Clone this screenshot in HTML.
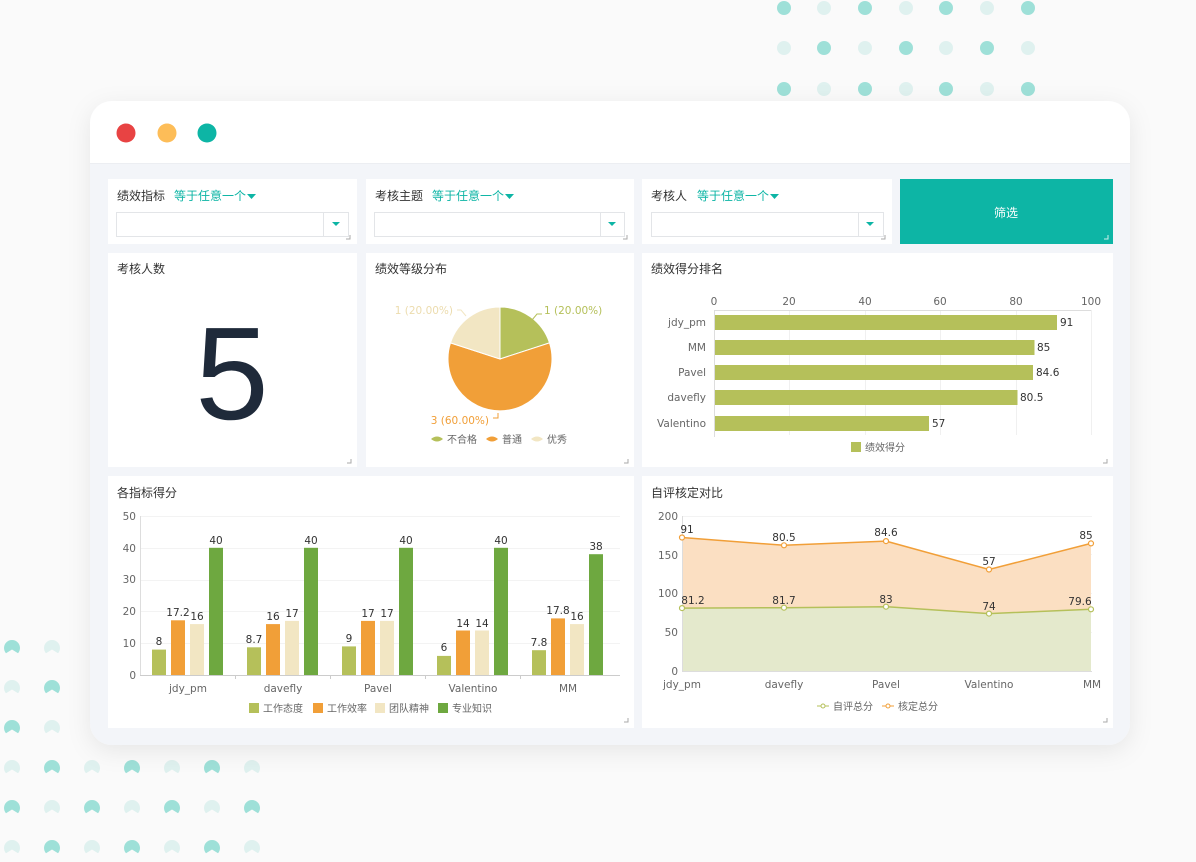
<!DOCTYPE html>
<html><head><meta charset="utf-8">
<style>
html,body{margin:0;padding:0;background:#fafafa;}
svg{display:block;font-family:"Liberation Sans","Noto Sans CJK SC",sans-serif;}
.t{font-size:12px;fill:#333;}
.ax{font-size:10.5px;fill:#666;font-family:"DejaVu Sans","Noto Sans CJK SC",sans-serif;}
.lb{font-size:10.5px;fill:#333;font-family:"DejaVu Sans","Noto Sans CJK SC",sans-serif;}
.pl{font-size:10.5px;font-family:"DejaVu Sans",sans-serif;}
</style></head><body>
<svg width="1196" height="862" viewBox="0 0 1196 862" xmlns="http://www.w3.org/2000/svg">
<defs>
<filter id="sh" x="-10%" y="-10%" width="120%" height="125%"><feDropShadow dx="0" dy="6" stdDeviation="12" flood-color="#000" flood-opacity="0.08"/></filter>
<g id="pd"><path d="M-6,5.3 A8 8 0 1 1 6,5.3 L0,1.5 Z"/></g>
</defs>
<rect width="1196" height="862" fill="#fafafa"/>
<g>
<circle cx="784" cy="8" r="7" fill="#9ee0d8"/><circle cx="824" cy="8" r="7" fill="#dff1ef"/><circle cx="865" cy="8" r="7" fill="#9ee0d8"/><circle cx="906" cy="8" r="7" fill="#dff1ef"/><circle cx="946" cy="8" r="7" fill="#9ee0d8"/><circle cx="987" cy="8" r="7" fill="#dff1ef"/><circle cx="1028" cy="8" r="7" fill="#9ee0d8"/>
<circle cx="784" cy="48" r="7" fill="#dff1ef"/><circle cx="824" cy="48" r="7" fill="#9ee0d8"/><circle cx="865" cy="48" r="7" fill="#dff1ef"/><circle cx="906" cy="48" r="7" fill="#9ee0d8"/><circle cx="946" cy="48" r="7" fill="#dff1ef"/><circle cx="987" cy="48" r="7" fill="#9ee0d8"/><circle cx="1028" cy="48" r="7" fill="#dff1ef"/>
<circle cx="784" cy="89" r="7" fill="#9ee0d8"/><circle cx="824" cy="89" r="7" fill="#dff1ef"/><circle cx="865" cy="89" r="7" fill="#9ee0d8"/><circle cx="906" cy="89" r="7" fill="#dff1ef"/><circle cx="946" cy="89" r="7" fill="#9ee0d8"/><circle cx="987" cy="89" r="7" fill="#dff1ef"/><circle cx="1028" cy="89" r="7" fill="#9ee0d8"/>
</g>
<g>
<use href="#pd" x="12" y="648" fill="#9ee0d8"/><use href="#pd" x="52" y="648" fill="#dff1ef"/>
<use href="#pd" x="12" y="688" fill="#dff1ef"/><use href="#pd" x="52" y="688" fill="#9ee0d8"/>
<use href="#pd" x="12" y="728" fill="#9ee0d8"/><use href="#pd" x="52" y="728" fill="#dff1ef"/>
<use href="#pd" x="12" y="768" fill="#dff1ef"/><use href="#pd" x="52" y="768" fill="#9ee0d8"/><use href="#pd" x="92" y="768" fill="#dff1ef"/><use href="#pd" x="132" y="768" fill="#9ee0d8"/><use href="#pd" x="172" y="768" fill="#dff1ef"/><use href="#pd" x="212" y="768" fill="#9ee0d8"/><use href="#pd" x="252" y="768" fill="#dff1ef"/>
<use href="#pd" x="12" y="808" fill="#9ee0d8"/><use href="#pd" x="52" y="808" fill="#dff1ef"/><use href="#pd" x="92" y="808" fill="#9ee0d8"/><use href="#pd" x="132" y="808" fill="#dff1ef"/><use href="#pd" x="172" y="808" fill="#9ee0d8"/><use href="#pd" x="212" y="808" fill="#dff1ef"/><use href="#pd" x="252" y="808" fill="#9ee0d8"/>
<use href="#pd" x="12" y="848" fill="#dff1ef"/><use href="#pd" x="52" y="848" fill="#9ee0d8"/><use href="#pd" x="92" y="848" fill="#dff1ef"/><use href="#pd" x="132" y="848" fill="#9ee0d8"/><use href="#pd" x="172" y="848" fill="#dff1ef"/><use href="#pd" x="212" y="848" fill="#9ee0d8"/><use href="#pd" x="252" y="848" fill="#dff1ef"/>
</g>
<rect x="90" y="101" width="1040" height="644" rx="22" fill="#f3f5f9" filter="url(#sh)"/>
<path d="M112,101 H1108 A22 22 0 0 1 1130,123 V163 H90 V123 A22 22 0 0 1 112,101 Z" fill="#fff"/>
<line x1="90" y1="163.5" x2="1130" y2="163.5" stroke="#eceef2"/>
<circle cx="126" cy="133" r="9.5" fill="#e84343"/>
<circle cx="167" cy="133" r="9.5" fill="#fdbd58"/>
<circle cx="207" cy="133" r="9.5" fill="#0db5a5"/>

<g fill="#fff">
<rect x="108" y="179" width="249" height="65"/>
<rect x="366" y="179" width="268" height="65"/>
<rect x="642" y="179" width="250" height="65"/>
<rect x="108" y="253" width="249" height="214"/>
<rect x="366" y="253" width="268" height="214"/>
<rect x="642" y="253" width="471" height="214"/>
<rect x="108" y="476" width="526" height="252"/>
<rect x="642" y="476" width="471" height="252"/>
</g>
<rect x="900" y="179" width="213" height="65" fill="#0db5a5"/>
<text x="1006" y="217" font-size="12" fill="#fff" text-anchor="middle">筛选</text>

<g font-size="12">
<text x="117" y="200" fill="#333">绩效指标</text><text x="174" y="200" fill="#0db5a5">等于任意一个</text>
<path d="M247,194 h9 l-4.5,5 z" fill="#0db5a5"/>
<rect x="116.5" y="212.5" width="232" height="24" fill="#fff" stroke="#e3e5e8"/><line x1="323.5" y1="213" x2="323.5" y2="236" stroke="#e3e5e8"/>
<path d="M332,222 h8 l-4,4 z" fill="#0db5a5"/>
<text x="375" y="200" fill="#333">考核主题</text><text x="432" y="200" fill="#0db5a5">等于任意一个</text>
<path d="M505,194 h9 l-4.5,5 z" fill="#0db5a5"/>
<rect x="374.5" y="212.5" width="250" height="24" fill="#fff" stroke="#e3e5e8"/><line x1="600.5" y1="213" x2="600.5" y2="236" stroke="#e3e5e8"/>
<path d="M608,222 h8 l-4,4 z" fill="#0db5a5"/>
<text x="651" y="200" fill="#333">考核人</text><text x="697" y="200" fill="#0db5a5">等于任意一个</text>
<path d="M770,194 h9 l-4.5,5 z" fill="#0db5a5"/>
<rect x="651.5" y="212.5" width="232" height="24" fill="#fff" stroke="#e3e5e8"/><line x1="858.5" y1="213" x2="858.5" y2="236" stroke="#e3e5e8"/>
<path d="M866,222 h8 l-4,4 z" fill="#0db5a5"/>
</g>
<g stroke="#aaa" fill="none" stroke-width="1">
<path d="M350,235 v4 h-4"/><path d="M627,235 v4 h-4"/><path d="M885,235 v4 h-4"/><path d="M1108,235 v4 h-4" stroke="#d0f0ec"/>
<path d="M351,459 v4 h-4"/><path d="M628,459 v4 h-4"/><path d="M1107,459 v4 h-4"/>
<path d="M628,718 v4 h-4"/><path d="M1107,718 v4 h-4"/>
</g>

<text class="t" x="117" y="273">考核人数</text>
<text class="t" x="375" y="273">绩效等级分布</text>
<text class="t" x="651" y="273">绩效得分排名</text>
<text class="t" x="117" y="497">各指标得分</text>
<text class="t" x="651" y="497">自评核定对比</text>

<text x="232" y="419" font-size="132" fill="#1f2a3a" text-anchor="middle" font-family="Liberation Sans, sans-serif">5</text>

<path d="M500,359 L500,307 A52 52 0 0 1 549.5,342.9 Z" fill="#b5c05a" stroke="#fff" stroke-width="1"/>
<path d="M500,359 L549.5,342.9 A52 52 0 1 1 450.5,342.9 Z" fill="#f19f38" stroke="#fff" stroke-width="1"/>
<path d="M500,359 L450.5,342.9 A52 52 0 0 1 500,307 Z" fill="#f2e6c3" stroke="#fff" stroke-width="1"/>
<path d="M532,320 l5,-6 h5" stroke="#b5c05a" fill="none"/>
<path d="M457,310 h4 l5,6" stroke="#f2e6c3" fill="none"/>
<path d="M493,418 h5 v-5" stroke="#f19f38" fill="none"/>
<text class="pl" x="544" y="314" fill="#b5c05a">1 (20.00%)</text>
<text class="pl" x="453" y="314" fill="#ecdcae" text-anchor="end">1 (20.00%)</text>
<text class="pl" x="489" y="424" fill="#f19f38" text-anchor="end">3 (60.00%)</text>
<g font-size="10" fill="#666">
<path d="M431,439 q6,-5 12,0 q-6,5 -12,0z" fill="#b5c05a"/><text x="447" y="443">不合格</text>
<path d="M486,439 q6,-5 12,0 q-6,5 -12,0z" fill="#f19f38"/><text x="502" y="443">普通</text>
<path d="M531,439 q6,-5 12,0 q-6,5 -12,0z" fill="#f2e6c3"/><text x="547" y="443">优秀</text>
</g>

<g stroke="#f0f0f0">
<line x1="789.5" y1="310" x2="789.5" y2="435"/><line x1="865.5" y1="310" x2="865.5" y2="435"/><line x1="940.5" y1="310" x2="940.5" y2="435"/><line x1="1016.5" y1="310" x2="1016.5" y2="435"/><line x1="1091.5" y1="310" x2="1091.5" y2="435"/>
</g>
<line x1="714" y1="310.5" x2="1091" y2="310.5" stroke="#ddd"/>
<line x1="714.5" y1="310" x2="714.5" y2="437" stroke="#ddd"/>
<g class="ax" text-anchor="middle">
<text x="714" y="305">0</text><text x="789" y="305">20</text><text x="865" y="305">40</text><text x="940" y="305">60</text><text x="1016" y="305">80</text><text x="1091" y="305">100</text>
</g>
<g class="ax" text-anchor="end">
<text x="706" y="326">jdy_pm</text><text x="706" y="351">MM</text><text x="706" y="376">Pavel</text><text x="706" y="401">davefly</text><text x="706" y="427">Valentino</text>
</g>
<g fill="#b5c05a">
<rect x="715" y="315" width="342" height="15"/><rect x="715" y="340" width="319.5" height="15"/><rect x="715" y="365" width="318" height="15"/><rect x="715" y="390" width="302.5" height="15"/><rect x="715" y="416" width="214" height="15"/>
</g>
<g class="lb">
<text x="1060" y="326">91</text><text x="1037" y="351">85</text><text x="1036" y="376">84.6</text><text x="1020" y="401">80.5</text><text x="932" y="427">57</text>
</g>
<rect x="851" y="442" width="10" height="10" fill="#b5c05a"/><text x="865" y="451" font-size="10" fill="#666">绩效得分</text>

<g stroke="#f3f3f3">
<line x1="140" y1="516.5" x2="620" y2="516.5"/><line x1="140" y1="548.5" x2="620" y2="548.5"/><line x1="140" y1="580.5" x2="620" y2="580.5"/><line x1="140" y1="611.5" x2="620" y2="611.5"/><line x1="140" y1="643.5" x2="620" y2="643.5"/>
</g>
<line x1="140.5" y1="516" x2="140.5" y2="676" stroke="#ddd"/>
<line x1="140" y1="675.5" x2="620" y2="675.5" stroke="#ccc"/>
<g stroke="#ccc"><line x1="235.5" y1="675" x2="235.5" y2="679"/><line x1="330.5" y1="675" x2="330.5" y2="679"/><line x1="425.5" y1="675" x2="425.5" y2="679"/><line x1="520.5" y1="675" x2="520.5" y2="679"/></g>
<g class="ax" text-anchor="end">
<text x="136" y="520">50</text><text x="136" y="552">40</text><text x="136" y="583">30</text><text x="136" y="615">20</text><text x="136" y="647">10</text><text x="136" y="679">0</text>
</g>
<g class="ax" text-anchor="middle">
<text x="188" y="692">jdy_pm</text><text x="283" y="692">davefly</text><text x="378" y="692">Pavel</text><text x="473" y="692">Valentino</text><text x="568" y="692">MM</text>
</g>
<g fill="#b5c05a">
<rect x="152" y="649.6" width="14" height="25.4"/><rect x="247" y="647.3" width="14" height="27.7"/><rect x="342" y="646.4" width="14" height="28.6"/><rect x="437" y="655.9" width="14" height="19.1"/><rect x="532" y="650.2" width="14" height="24.8"/>
</g>
<g fill="#f19f38">
<rect x="171" y="620.3" width="14" height="54.7"/><rect x="266" y="624.1" width="14" height="50.9"/><rect x="361" y="620.9" width="14" height="54.1"/><rect x="456" y="630.5" width="14" height="44.5"/><rect x="551" y="618.4" width="14" height="56.6"/>
</g>
<g fill="#f2e6c3">
<rect x="190" y="624.1" width="14" height="50.9"/><rect x="285" y="620.9" width="14" height="54.1"/><rect x="380" y="620.9" width="14" height="54.1"/><rect x="475" y="630.5" width="14" height="44.5"/><rect x="570" y="624.1" width="14" height="50.9"/>
</g>
<g fill="#6ea840">
<rect x="209" y="547.8" width="14" height="127.2"/><rect x="304" y="547.8" width="14" height="127.2"/><rect x="399" y="547.8" width="14" height="127.2"/><rect x="494" y="547.8" width="14" height="127.2"/><rect x="589" y="554.2" width="14" height="120.8"/>
</g>
<g class="lb" text-anchor="middle">
<text x="159" y="645">8</text><text x="178" y="616">17.2</text><text x="197" y="620">16</text><text x="216" y="544">40</text>
<text x="254" y="643">8.7</text><text x="273" y="620">16</text><text x="292" y="617">17</text><text x="311" y="544">40</text>
<text x="349" y="642">9</text><text x="368" y="617">17</text><text x="387" y="617">17</text><text x="406" y="544">40</text>
<text x="444" y="651">6</text><text x="463" y="627">14</text><text x="482" y="627">14</text><text x="501" y="544">40</text>
<text x="539" y="646">7.8</text><text x="558" y="614">17.8</text><text x="577" y="620">16</text><text x="596" y="550">38</text>
</g>
<g font-size="10" fill="#666">
<rect x="249" y="703" width="10" height="10" fill="#b5c05a"/><text x="263" y="712">工作态度</text>
<rect x="313" y="703" width="10" height="10" fill="#f19f38"/><text x="327" y="712">工作效率</text>
<rect x="375" y="703" width="10" height="10" fill="#f2e6c3"/><text x="389" y="712">团队精神</text>
<rect x="438" y="703" width="10" height="10" fill="#6ea840"/><text x="452" y="712">专业知识</text>
</g>

<g stroke="#f3f3f3">
<line x1="682" y1="516.5" x2="1092" y2="516.5"/><line x1="682" y1="554.5" x2="1092" y2="554.5"/><line x1="682" y1="593.5" x2="1092" y2="593.5"/><line x1="682" y1="632.5" x2="1092" y2="632.5"/>
</g>
<path d="M682,537.5 L784,545.3 L886,541.1 L989,569.5 L1091,543.4 L1091,609.3 L989,613.6 L886,606.7 L784,607.7 L682,608.1 Z" fill="#fbdfc2"/>
<path d="M682,608.1 L784,607.7 L886,606.7 L989,613.6 L1091,609.3 L1091,671 L682,671 Z" fill="#e4e9cc"/>
<line x1="682.5" y1="516" x2="682.5" y2="672" stroke="#ddd"/>
<line x1="682" y1="671.5" x2="1092" y2="671.5" stroke="#ddd"/>
<path d="M682,537.5 L784,545.3 L886,541.1 L989,569.5 L1091,543.4" fill="none" stroke="#f19f38" stroke-width="1.5"/>
<path d="M682,608.1 L784,607.7 L886,606.7 L989,613.6 L1091,609.3" fill="none" stroke="#b5c05a" stroke-width="1.5"/>
<g fill="#fff" stroke="#f19f38" stroke-width="1.2">
<circle cx="682" cy="537.5" r="2.5"/><circle cx="784" cy="545.3" r="2.5"/><circle cx="886" cy="541.1" r="2.5"/><circle cx="989" cy="569.5" r="2.5"/><circle cx="1091" cy="543.4" r="2.5"/>
</g>
<g fill="#fff" stroke="#b5c05a" stroke-width="1.2">
<circle cx="682" cy="608.1" r="2.5"/><circle cx="784" cy="607.7" r="2.5"/><circle cx="886" cy="606.7" r="2.5"/><circle cx="989" cy="613.6" r="2.5"/><circle cx="1091" cy="609.3" r="2.5"/>
</g>
<g class="ax" text-anchor="end">
<text x="678" y="520">200</text><text x="678" y="559">150</text><text x="678" y="597">100</text><text x="678" y="636">50</text><text x="678" y="675">0</text>
</g>
<g class="ax" text-anchor="middle">
<text x="682" y="688">jdy_pm</text><text x="784" y="688">davefly</text><text x="886" y="688">Pavel</text><text x="989" y="688">Valentino</text><text x="1092" y="688">MM</text>
</g>
<g class="lb" text-anchor="middle">
<text x="687" y="533">91</text><text x="784" y="541">80.5</text><text x="886" y="536">84.6</text><text x="989" y="565">57</text><text x="1086" y="539">85</text>
<text x="693" y="604">81.2</text><text x="784" y="604">81.7</text><text x="886" y="603">83</text><text x="989" y="610">74</text><text x="1080" y="605">79.6</text>
</g>
<g font-size="10" fill="#666">
<line x1="817" y1="706" x2="829" y2="706" stroke="#b5c05a"/><circle cx="823" cy="706" r="2" fill="#fff" stroke="#b5c05a"/><text x="833" y="710">自评总分</text>
<line x1="882" y1="706" x2="894" y2="706" stroke="#f19f38"/><circle cx="888" cy="706" r="2" fill="#fff" stroke="#f19f38"/><text x="898" y="710">核定总分</text>
</g>
</svg>
</body></html>
